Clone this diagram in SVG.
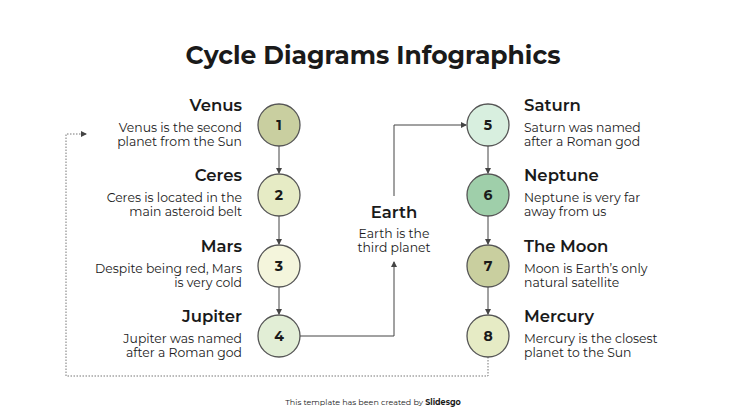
<svg xmlns="http://www.w3.org/2000/svg" width="747" height="420" viewBox="0 0 747 420">
<style>
text{font-family:"Montserrat","Inter","Liberation Sans",sans-serif;fill:#1a1a1a}
.t{font-size:16.5px;font-weight:600}
.d{font-size:12.4px}
.n{font-size:14px;font-weight:700;text-anchor:middle}
.r{text-anchor:end}
.c{stroke:#555;stroke-width:1.3}
.ln{fill:none;stroke:#444;stroke-width:1}
.dt{fill:none;stroke:#777;stroke-width:1;stroke-dasharray:1.5 1.5}
</style>
<defs><marker id="a" markerWidth="6" markerHeight="6" refX="5" refY="3" orient="auto" markerUnits="userSpaceOnUse"><path d="M0,0L6,3L0,6z" fill="#444"/></marker></defs>
<rect width="747" height="420" fill="#fff"/>
<text x="373" y="64" style="font-size:25px;font-weight:700;text-anchor:middle">Cycle Diagrams Infographics</text>
<g id="connectors">
<path class="ln" d="M279,146V173" marker-end="url(#a)"/>
<path class="ln" d="M279,216V244" marker-end="url(#a)"/>
<path class="ln" d="M279,287V314" marker-end="url(#a)"/>
<path class="ln" d="M300,336H394V262" marker-end="url(#a)"/>
<path class="ln" d="M394,196V125H466" marker-end="url(#a)"/>
<path class="ln" d="M488,146V173" marker-end="url(#a)"/>
<path class="ln" d="M488,216V244" marker-end="url(#a)"/>
<path class="ln" d="M488,287V314" marker-end="url(#a)"/>
<path class="dt" d="M488,357V376H66V134H86" marker-end="url(#a)"/>
</g>
<g id="n1"><circle class="c" cx="279" cy="125" r="21" fill="#c9cfa0"/><text class="n" x="279" y="130">1</text>
<text class="t r" x="242" y="111">Venus</text><text class="d r" x="242" y="132">Venus is the second</text><text class="d r" x="242" y="146">planet from the Sun</text></g>
<g id="n2"><circle class="c" cx="279" cy="195" r="21" fill="#e6ebc5"/><text class="n" x="279" y="200">2</text>
<text class="t r" x="242" y="181">Ceres</text><text class="d r" x="242" y="202">Ceres is located in the</text><text class="d r" x="242" y="216">main asteroid belt</text></g>
<g id="n3"><circle class="c" cx="279" cy="266" r="21" fill="#f4f5dc"/><text class="n" x="279" y="271">3</text>
<text class="t r" x="242" y="252">Mars</text><text class="d r" x="242" y="273">Despite being red, Mars</text><text class="d r" x="242" y="287">is very cold</text></g>
<g id="n4"><circle class="c" cx="279" cy="336" r="21" fill="#e2eed6"/><text class="n" x="279" y="341">4</text>
<text class="t r" x="242" y="322">Jupiter</text><text class="d r" x="242" y="343">Jupiter was named</text><text class="d r" x="242" y="357">after a Roman god</text></g>
<g id="earth"><text class="t" x="394" y="218" text-anchor="middle">Earth</text><text class="d" x="394" y="238" text-anchor="middle">Earth is the</text><text class="d" x="394" y="252" text-anchor="middle">third planet</text></g>
<g id="n5"><circle class="c" cx="488" cy="125" r="21" fill="#d8efdf"/><text class="n" x="488" y="130">5</text>
<text class="t" x="524" y="111">Saturn</text><text class="d" x="524" y="132">Saturn was named</text><text class="d" x="524" y="146">after a Roman god</text></g>
<g id="n6"><circle class="c" cx="488" cy="195" r="21" fill="#9fcfaa"/><text class="n" x="488" y="200">6</text>
<text class="t" x="524" y="181">Neptune</text><text class="d" x="524" y="202">Neptune is very far</text><text class="d" x="524" y="216">away from us</text></g>
<g id="n7"><circle class="c" cx="488" cy="266" r="21" fill="#c9cf9f"/><text class="n" x="488" y="271">7</text>
<text class="t" x="524" y="252">The Moon</text><text class="d" x="524" y="273">Moon is Earth’s only</text><text class="d" x="524" y="287">natural satellite</text></g>
<g id="n8"><circle class="c" cx="488" cy="336" r="21" fill="#e6ebc5"/><text class="n" x="488" y="341">8</text>
<text class="t" x="524" y="322">Mercury</text><text class="d" x="524" y="343">Mercury is the closest</text><text class="d" x="524" y="357">planet to the Sun</text></g>
<text x="373" y="405" style="font-size:8px;text-anchor:middle">This template has been created by <tspan font-weight="700">Slidesgo</tspan></text>
</svg>
